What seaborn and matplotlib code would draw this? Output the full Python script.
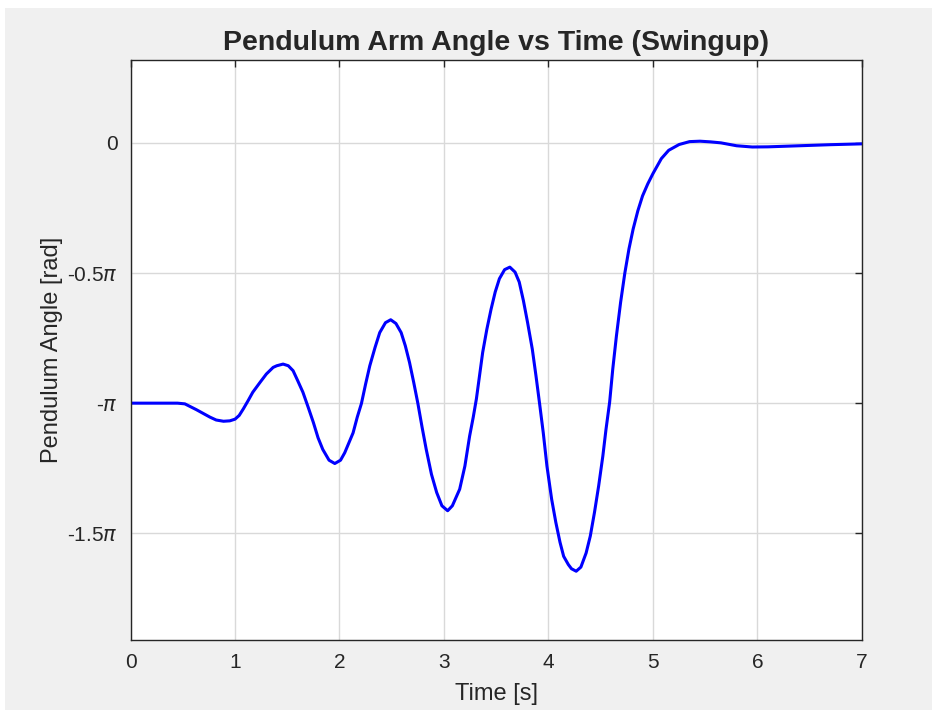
import numpy as np
import matplotlib
matplotlib.use("Agg")
import matplotlib.pyplot as plt
import seaborn as sns
from matplotlib.patches import Rectangle

# valores (tiempo en s, ángulo en rad)
time_s = [0.00, 0.30, 0.45, 0.52, 0.63, 0.76, 0.82, 0.89, 0.95, 1.00,
          1.04, 1.08, 1.126, 1.17, 1.24, 1.30, 1.365, 1.40, 1.46, 1.51,
          1.556, 1.60, 1.65, 1.70, 1.75, 1.795, 1.84, 1.90, 1.955, 2.01,
          2.05, 2.13, 2.17, 2.21, 2.25, 2.29, 2.34, 2.385, 2.44, 2.49,
          2.54, 2.59, 2.63, 2.67, 2.71, 2.75, 2.79, 2.83, 2.88, 2.93,
          2.98, 3.035, 3.08, 3.15, 3.20, 3.245, 3.28, 3.31, 3.34, 3.37,
          3.41, 3.45, 3.49, 3.53, 3.58, 3.63, 3.68, 3.72, 3.76, 3.80,
          3.845, 3.88, 3.915, 3.95, 3.985, 4.03, 4.07, 4.11, 4.145, 4.19,
          4.22, 4.265, 4.31, 4.36, 4.40, 4.44, 4.48, 4.52, 4.55, 4.585,
          4.615, 4.65, 4.69, 4.73, 4.77, 4.81, 4.855, 4.90, 4.95, 5.00,
          5.08, 5.15, 5.25, 5.35, 5.45, 5.55, 5.65, 5.80, 5.95, 6.10,
          6.40, 6.70, 7.00]
angle_rad = [-3.1416, -3.1416, -3.1416, -3.15, -3.22, -3.31, -3.345, -3.36, -3.355, -3.335,
             -3.29, -3.21, -3.11, -3.01, -2.89, -2.79, -2.71, -2.69, -2.67, -2.69,
             -2.75, -2.87, -3.01, -3.19, -3.375, -3.56, -3.70, -3.83, -3.87, -3.83,
             -3.74, -3.50, -3.31, -3.145, -2.91, -2.69, -2.47, -2.29, -2.17, -2.135,
             -2.18, -2.29, -2.45, -2.65, -2.89, -3.145, -3.43, -3.70, -4.00, -4.22,
             -4.38, -4.44, -4.38, -4.18, -3.90, -3.54, -3.31, -3.09, -2.81, -2.53,
             -2.25, -2.01, -1.80, -1.64, -1.53, -1.50, -1.56, -1.68, -1.905, -2.17,
             -2.49, -2.81, -3.15, -3.50, -3.90, -4.30, -4.58, -4.82, -4.99, -5.09,
             -5.14, -5.17, -5.12, -4.95, -4.745, -4.46, -4.14, -3.78, -3.46, -3.13,
             -2.73, -2.33, -1.925, -1.575, -1.28, -1.04, -0.82, -0.64, -0.495, -0.37,
             -0.19, -0.09, -0.02, 0.015, 0.02, 0.012, 0.0, -0.035, -0.05, -0.048,
             -0.035, -0.022, -0.012]

y_ticks = [0, -0.5 * np.pi, -np.pi, -1.5 * np.pi]
y_tick_labels = ["0", r"-0.5$\pi$", r"-$\pi$", r"-1.5$\pi$"]
x_ticks = [0, 1, 2, 3, 4, 5, 6, 7]

sns.set_style("white")
plt.rcParams["font.family"] = ["Liberation Sans", "DejaVu Sans"]
plt.rcParams["mathtext.fontset"] = "dejavusans"

fig = plt.figure(figsize=(9.32, 7.10), dpi=100, facecolor="white")
# fondo gris estilo MATLAB
fig.patches.append(Rectangle((5 / 932, 0), 1, 1 - 8 / 710, transform=fig.transFigure,
                             facecolor="#f0f0f0", edgecolor="none", zorder=-10))
ax = fig.add_axes([130.5 / 932, 70 / 710, (862 - 130.5) / 932, 580 / 710])
ax.set_facecolor("white")

sns.lineplot(x=time_s, y=angle_rad, ax=ax, color="blue", linewidth=2.2, sort=False)

ax.set_xlim(0, 7)
ax.set_ylim(-6, 1)
ax.set_xticks(x_ticks)
ax.set_yticks(y_ticks)
ax.set_yticklabels(y_tick_labels)
ax.grid(True, color="#d9d9d9", linewidth=1)
ax.set_axisbelow(True)
for s in ax.spines.values():
    s.set_visible(True)
    s.set_color("#262626")
    s.set_linewidth(1)
ax.tick_params(direction="in", length=5, width=1, color="#262626", labelsize=15,
               labelcolor="#262626", top=True, right=True, pad=9)

ax.set_title("Pendulum Arm Angle vs Time (Swingup)", fontsize=20.5, fontweight="bold", pad=7)
ax.set_xlabel("Time [s]", fontsize=17, color="#262626", labelpad=8)
ax.set_ylabel("Pendulum Angle [rad]", fontsize=17, color="#262626", labelpad=3)

fig.savefig("out.png", dpi=100, facecolor=fig.get_facecolor())
